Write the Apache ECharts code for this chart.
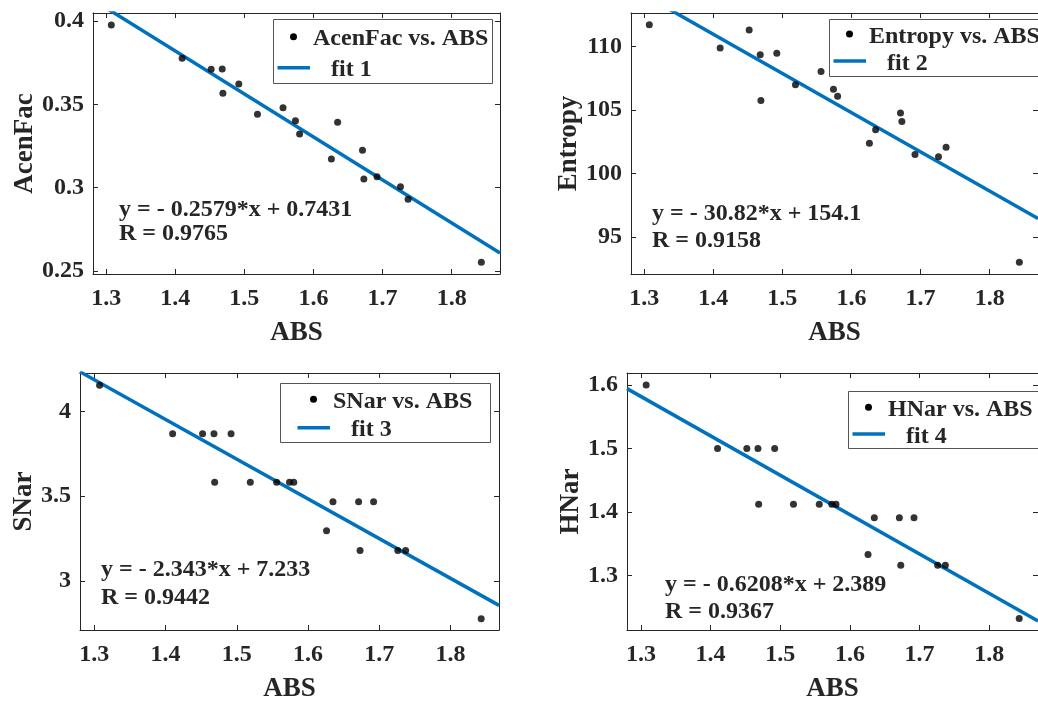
<!DOCTYPE html>
<html>
<head>
<meta charset="utf-8">
<script src="https://cdn.jsdelivr.net/npm/echarts@6/dist/echarts.min.js"></script>
<style>
html,body{margin:0;padding:0;background:#fff;}
#chart{width:1038px;height:704px;}
</style>
</head>
<body>
<div id="chart"></div>
<script>
// ---- data ----
const absValues = [1.3075, 1.410, 1.452, 1.468, 1.469, 1.492, 1.519, 1.556, 1.574, 1.580, 1.626, 1.635, 1.671, 1.673, 1.692, 1.726, 1.737, 1.843];
const acenFac = [0.3976, 0.3776, 0.3710, 0.3712, 0.3566, 0.3622, 0.3440, 0.3480, 0.3402, 0.3322, 0.3172, 0.3392, 0.3224, 0.3052, 0.3066, 0.3006, 0.2930, 0.2552];
const entropy = [111.70, 109.87, 111.29, 109.34, 105.75, 109.45, 106.98, 108.03, 106.62, 106.07, 102.39, 103.44, 104.76, 104.10, 101.50, 101.32, 102.08, 93.03];
const sNar = [4.155, 3.868, 3.868, 3.868, 3.583, 3.868, 3.583, 3.583, 3.583, 3.583, 3.297, 3.467, 3.467, 3.180, 3.467, 3.180, 3.180, 2.777];
const hNar = [1.600, 1.500, 1.500, 1.500, 1.412, 1.500, 1.412, 1.412, 1.412, 1.412, 1.333, 1.391, 1.391, 1.316, 1.391, 1.316, 1.316, 1.232];

const yNames = ['AcenFac', 'Entropy', 'SNar', 'HNar'];
const xName = 'ABS';
const legendPointLabels = ['AcenFac vs. ABS', 'Entropy vs. ABS', 'SNar vs. ABS', 'HNar vs. ABS'];
const legendFitLabels = ['fit 1', 'fit 2', 'fit 3', 'fit 4'];
const fitSlopes = [-0.2579, -30.82, -2.343, -0.6208];
const fitIntercepts = [0.7431, 154.1, 7.233, 2.389];
const equationLabels = ['y = - 0.2579*x + 0.7431', 'y = - 30.82*x + 154.1', 'y = - 2.343*x + 7.233', 'y = - 0.6208*x + 2.389'];
const rLabels = ['R = 0.9765', 'R = 0.9158', 'R = 0.9442', 'R = 0.9367'];
const xRanges = [[1.281, 1.870], [1.281, 1.870], [1.280, 1.868], [1.280, 1.870]];
const yRanges = [[0.2482, 0.4048], [92.11, 112.62], [2.711, 4.227], [1.214, 1.619]];
const xTickStep = 0.1;
const yTickSteps = [0.05, 5, 0.5, 0.1];

// ---- layout / style ----
const ySeries = [acenFac, entropy, sNar, hNar];
const FONT = '"Liberation Serif", "Times New Roman", serif';
const TXT = '#262626';
const AX = '#262626';
const BLUE = '#0072BD';

const grids = [
  {left: 93, top: 13, width: 407, height: 261},
  {left: 631, top: 13, width: 416, height: 261},
  {left: 80, top: 373, width: 419, height: 261},
  {left: 627, top: 373, width: 420, height: 261}
];
const yNameGaps = [44, 41, 39, 39];
// legend boxes: box rect, icon x-offset, dot row y, line row y
const legendBoxes = [
  {x: 273.5, y: 19.5, w: 219, h: 64, ix: 0, d: 36.7, l: 67.7},
  {x: 829.5, y: 19.5, w: 240, h: 57, ix: 0, d: 34.0, l: 61.0},
  {x: 280.5, y: 383.5, w: 210, h: 59, ix: 13, d: 399.3, l: 427.7},
  {x: 848.5, y: 391.5, w: 240, h: 57, ix: 0, d: 407.3, l: 434.0}
];
const eqPos = [
  {x: 119, y1: 210, y2: 234},
  {x: 652, y1: 214, y2: 241},
  {x: 101, y1: 570, y2: 598},
  {x: 665, y1: 585, y2: 612}
];

function axisCommon(range, step) {
  return {
    type: 'value', min: range[0], max: range[1],
    minInterval: step, maxInterval: step, splitNumber: 5,
    axisLine: {show: true, onZero: false, lineStyle: {color: AX, width: 1}},
    axisTick: {show: true, inside: true, length: 5, lineStyle: {color: AX, width: 1}},
    splitLine: {show: false}
  };
}

const xAxes = [], yAxes = [], series = [], graphics = [];
for (let i = 0; i < 4; i++) {
  const xb = axisCommon(xRanges[i], xTickStep);
  Object.assign(xb, {
    gridIndex: i, position: 'bottom',
    name: xName, nameLocation: 'middle', nameGap: 46,
    nameTextStyle: {fontFamily: FONT, fontWeight: 'bold', fontSize: 27, color: TXT},
    axisLabel: {show: true, showMinLabel: false, showMaxLabel: false, margin: 13,
      fontFamily: FONT, fontWeight: 'bold', fontSize: 24, color: TXT}
  });
  const xt = axisCommon(xRanges[i], xTickStep);
  Object.assign(xt, {gridIndex: i, position: 'top', axisLabel: {show: false}});
  xAxes.push(xb, xt);

  const yl = axisCommon(yRanges[i], yTickSteps[i]);
  Object.assign(yl, {
    gridIndex: i, position: 'left',
    name: yNames[i], nameLocation: 'middle', nameGap: yNameGaps[i], nameRotate: 90,
    nameTextStyle: {fontFamily: FONT, fontWeight: 'bold', fontSize: 27, color: TXT},
    axisLabel: {show: true, showMinLabel: false, showMaxLabel: false, margin: 9,
      fontFamily: FONT, fontWeight: 'bold', fontSize: 24, color: TXT}
  });
  const yr = axisCommon(yRanges[i], yTickSteps[i]);
  Object.assign(yr, {gridIndex: i, position: 'right', axisLabel: {show: false}});
  yAxes.push(yl, yr);

  const pts = absValues.map((x, k) => [x, ySeries[i][k]]);
  series.push({
    type: 'scatter', name: legendPointLabels[i], xAxisIndex: 2 * i, yAxisIndex: 2 * i,
    data: pts, symbol: 'circle', symbolSize: 7,
    itemStyle: {color: '#000'}, z: 3, silent: true
  });
  const fx = xRanges[i];
  const fitPts = fx.map(x => [x, fitSlopes[i] * x + fitIntercepts[i]]);
  series.push({
    type: 'line', name: legendFitLabels[i], xAxisIndex: 2 * i, yAxisIndex: 2 * i,
    data: fitPts, showSymbol: false, symbol: 'none', clip: true,
    lineStyle: {color: BLUE, width: 3.5}, z: 2, silent: true
  });

  // legend box (MATLAB style)
  const lb = legendBoxes[i];
  graphics.push({type: 'rect', z: 100, shape: {x: lb.x, y: lb.y, width: lb.w, height: lb.h},
    style: {fill: '#fff', stroke: '#555', lineWidth: 1}});
  graphics.push({type: 'circle', z: 101, shape: {cx: lb.x + lb.ix + 20, cy: lb.d, r: 3.5}, style: {fill: '#000'}});
  graphics.push({type: 'text', z: 101, style: {x: lb.x + lb.ix + 39.5, y: lb.d + 2.3, text: legendPointLabels[i],
    font: 'bold 24px ' + FONT, fill: TXT, verticalAlign: 'middle', align: 'left'}});
  graphics.push({type: 'line', z: 101, shape: {x1: lb.x + lb.ix + 4, y1: lb.l, x2: lb.x + lb.ix + 36.5, y2: lb.l},
    style: {stroke: BLUE, lineWidth: 3.5}});
  graphics.push({type: 'text', z: 101, style: {x: lb.x + lb.ix + 57.5, y: lb.l + 2.5, text: legendFitLabels[i],
    font: 'bold 24px ' + FONT, fill: TXT, verticalAlign: 'middle', align: 'left'}});

  const ep = eqPos[i];
  graphics.push({type: 'text', z: 50, style: {x: ep.x, y: ep.y1, text: equationLabels[i],
    font: 'bold 24px ' + FONT, fill: TXT, verticalAlign: 'middle', align: 'left'}});
  graphics.push({type: 'text', z: 50, style: {x: ep.x, y: ep.y2, text: rLabels[i],
    font: 'bold 24px ' + FONT, fill: TXT, verticalAlign: 'middle', align: 'left'}});
}

const chart = echarts.init(document.getElementById('chart'), null, {renderer: 'canvas'});
chart.setOption({
  animation: false,
  backgroundColor: '#fff',
  grid: grids.map(g => Object.assign({containLabel: false, show: false}, g)),
  xAxis: xAxes,
  yAxis: yAxes,
  series: series,
  graphic: graphics
});
</script>
</body>
</html>
